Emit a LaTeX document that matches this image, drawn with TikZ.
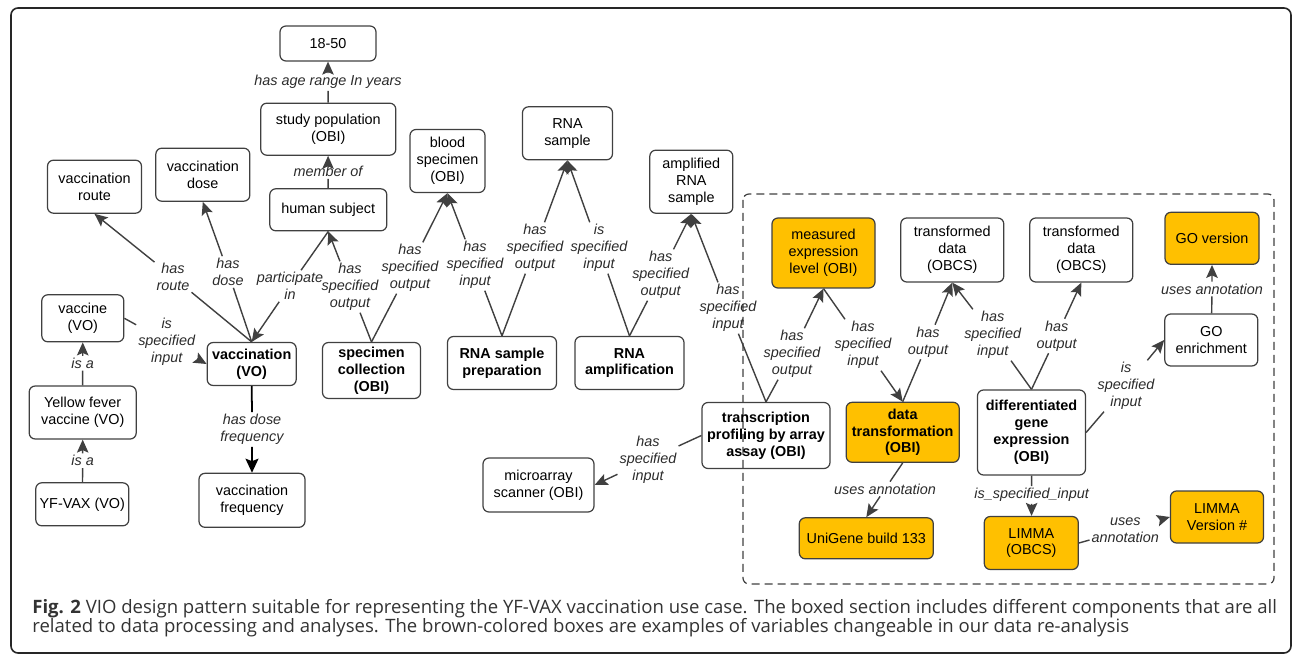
\documentclass[tikz,border=0pt]{standalone}
\usepackage{fontspec}
\setmainfont{Liberation Sans}
\newfontfamily\capfont{Open Sans}
\usetikzlibrary{arrows.meta}
\definecolor{boxgold}{HTML}{FFC000}
\definecolor{linegray}{HTML}{404040}
\definecolor{labelgray}{HTML}{2B2B2B}
\definecolor{capgray}{HTML}{333333}
\newsavebox\capone
\newlength\caponew
\begin{document}
\sbox\capone{\capfont\fontsize{10.5}{12}\selectfont\color{capgray}\textbf{Fig. 2} VIO design pattern suitable for representing the YF-VAX vaccination use case. The boxed section includes different components that are all}%
\setlength\caponew{\wd\capone}%
\pgfmathsetmacro\capscale{24.9cm/\caponew}%
\begin{tikzpicture}[x=0.02cm,y=-0.02cm,
  box/.style={draw=linegray,line width=0.7pt,rounded corners=0.12cm,align=center,inner sep=1pt,font=\fontsize{8.2}{9.6}\selectfont},
  gold/.style={box,fill=boxgold},
  strong/.style={font=\fontsize{8.2}{9.6}\selectfont\bfseries},
  sz/.style 2 args={minimum width=#1*0.02cm,minimum height=#2*0.02cm},
  lbl/.style={align=center,inner sep=1pt,font=\fontsize{8.2}{9.6}\selectfont\itshape,text=labelgray},
  arr/.style={draw=linegray,line width=0.8pt,-{Stealth[length=0.26cm,width=0.23cm,inset=0.05cm]}},
  arrdark/.style={draw=black,line width=1pt,-{Stealth[length=0.28cm,width=0.26cm,inset=0.05cm]}}]
  \useasboundingbox (0,0) rectangle (1292,655);
  \draw[black!85,line width=0.9pt,rounded corners=0.14cm] (11,8) rectangle (1291,653);
  \draw[linegray,line width=0.7pt,dash pattern=on 0.16cm off 0.1cm,rounded corners=0.12cm] (743,194) rectangle (1274,584);

  % left part
  \node[box,sz={96}{35}] (age) at (328,43.5) {18-50};
  \node[box,sz={135}{52}] (studypop) at (328.3,129.2) {study population\\(OBI)};
  \node[box,sz={117}{42}] (human) at (328.3,209.8) {human subject};
  \node[box,sz={94}{53}] (route) at (94.5,186.7) {vaccination\\route};
  \node[box,sz={94}{53}] (dose) at (202.8,174.7) {vaccination\\dose};
  \node[box,sz={75}{63}] (blood) at (447.5,161) {blood\\specimen\\(OBI)};
  \node[box,sz={90}{53}] (rnasample) at (567.5,133.3) {RNA\\sample};
  \node[box,sz={83}{63}] (amprna) at (691.3,181.7) {amplified\\RNA\\sample};
  \node[box,sz={82}{47}] (vaccine) at (82.8,318.3) {vaccine\\(VO)};
  \node[box,sz={107}{53}] (yellow) at (82.7,412.5) {Yellow fever\\vaccine (VO)};
  \node[box,sz={93}{43}] (yfvax) at (82.3,504.3) {YF-VAX (VO)};
  \node[box,strong,sz={89}{43}] (vacc) at (251.7,364) {vaccination\\(VO)};
  \node[box,sz={106}{54}] (freq) at (252,500.3) {vaccination\\frequency};
  \node[box,strong,sz={98}{56}] (speccoll) at (371.5,370.5) {specimen\\collection\\(OBI)};
  \node[box,strong,sz={109}{53}] (rnaprep) at (502,363) {RNA sample\\preparation};
  \node[box,strong,sz={109}{53}] (rnaamp) at (629.5,363) {RNA\\amplification};
  \node[box,strong,sz={128}{66}] (transc) at (766,435.5) {transcription\\profiling by array\\assay (OBI)};
  \node[box,sz={111}{54}] (scanner) at (538.5,485) {microarray\\scanner (OBI)};

  % boxed part
  \node[gold,sz={103}{70}] (measured) at (823.5,253) {measured\\expression\\level (OBI)};
  \node[box,sz={103}{64}] (tdataA) at (952.3,250) {transformed\\data\\(OBCS)};
  \node[box,sz={103}{64}] (tdataB) at (1081.3,250) {transformed\\data\\(OBCS)};
  \node[gold,sz={94}{52}] (goversion) at (1212,238.3) {GO version};
  \node[box,sz={93}{52}] (goenrich) at (1211.3,340) {GO\\enrichment};
  \node[gold,strong,sz={113}{60}] (datatrans) at (902.7,432.3) {data\\transformation\\(OBI)};
  \node[box,strong,sz={108}{85}] (diffexp) at (1031.5,432.5) {differentiated\\gene\\expression\\(OBI)};
  \node[gold,sz={134}{41}] (unigene) at (866.3,538.3) {UniGene build 133};
  \node[gold,sz={94}{53}] (limma) at (1031.3,543) {LIMMA\\(OBCS)};
  \node[gold,sz={93}{52}] (limmaver) at (1217,517) {LIMMA\\Version \#};

  % labels
  \node[lbl] (lAge) at (328,82) {has age range In years};
  \node[lbl] (lMember) at (328,171.5) {member of};
  \node[lbl] (lRoute) at (173,277) {has\\route};
  \node[lbl] (lDose) at (228,272) {has\\dose};
  \node[lbl] (lPart) at (290,286) {participate\\in};
  \node[lbl] (lOutHuman) at (350,287) {has\\specified\\output};
  \node[lbl] (lOutBlood) at (410,268) {has\\specified\\output};
  \node[lbl] (lInBlood) at (475,265) {has\\specified\\input};
  \node[lbl] (lOutRna) at (535,248) {has\\specified\\output};
  \node[lbl] (lInRna) at (599,248) {is\\specified\\input};
  \node[lbl] (lOutAmp) at (660.7,275) {has\\specified\\output};
  \node[lbl] (lInAmp) at (728,308) {has\\specified\\input};
  \node[lbl] (lOutMeas) at (792,354) {has\\specified\\output};
  \node[lbl] (lInMeas) at (863,345) {has\\specified\\input};
  \node[lbl] (lOutA) at (928,342) {has\\output};
  \node[lbl] (lInA) at (992.7,335) {has\\specified\\input};
  \node[lbl] (lOutB) at (1056.7,336) {has\\output};
  \node[lbl] (lGo) at (1212,289) {uses annotation};
  \node[lbl] (lInGo) at (1126,386) {is\\specified\\input};
  \node[lbl] (lUni) at (885,489) {uses annotation};
  \node[lbl] (lLimma) at (1031.7,495) {is\_specified\_input};
  \node[lbl] (lVer) at (1125.3,530) {uses\\annotation};
  \node[lbl] (lScan) at (648,460) {has\\specified\\input};
  \node[lbl] (lVaccine) at (166.7,341.7) {is\\specified\\input};
  \node[lbl] (lIsaA) at (82.7,363.3) {is a};
  \node[lbl] (lIsaB) at (82.7,460.7) {is a};
  \node[lbl] (lFreq) at (252,429.5) {has dose\\frequency};

  % connectors
  \draw[arr] (studypop) -- (lAge) -- (age);
  \draw[arr] (human) -- (lMember) -- (studypop);
  \draw[arr] (vacc.north) -- (lRoute) -- (route.south);
  \draw[arr] (vacc.north) -- (lDose) -- (dose.south);
  \draw[arr] (human.south) -- (lPart) -- (vacc.north);
  \draw[arr] (speccoll.north) -- (lOutHuman) -- (human.south);
  \draw[arr] (speccoll.north) -- (lOutBlood) -- (blood.south);
  \draw[arr] (rnaprep.north) -- (lInBlood) -- (blood.south);
  \draw[arr] (rnaprep.north) -- (lOutRna) -- (rnasample.south);
  \draw[arr] (rnaamp.north) -- (lInRna) -- (rnasample.south);
  \draw[arr] (rnaamp.north) -- (lOutAmp) -- (amprna.south);
  \draw[arr] (transc.north) -- (lInAmp) -- (amprna.south);
  \draw[arr] (transc.north) -- (lOutMeas) -- (measured.south);
  \draw[arr] (measured.south) -- (lInMeas) -- (datatrans.north);
  \draw[arr] (datatrans.north) -- (lOutA) -- (tdataA.south);
  \draw[arr] (diffexp.north) -- (lInA) -- (tdataA.south);
  \draw[arr] (diffexp.north) -- (lOutB) -- (tdataB.south);
  \draw[arr] (goenrich) -- (lGo) -- (goversion);
  \draw[arr] (diffexp.east) -- (lInGo) -- (goenrich.west);
  \draw[arr] (datatrans.south) -- (lUni) -- (unigene.north);
  \draw[arr] (diffexp) -- (lLimma) -- (limma);
  \draw[arr] (limma.east) -- (lVer) -- (limmaver.west);
  \draw[arr] (transc.west) -- (lScan) -- (scanner.east);
  \draw[arr] (vaccine.east) -- (lVaccine) -- (vacc.west);
  \draw[arr] (yellow) -- (lIsaA) -- (vaccine);
  \draw[arr] (yfvax) -- (lIsaB) -- (yellow);
  \draw[arrdark] (vacc) -- (lFreq) -- (freq);

  % caption
  \node[anchor=base west,inner sep=0] (capA) at (32,613) {\scalebox{\capscale}[1]{\usebox\capone}};
  \node[anchor=base west,inner sep=0,text=capgray] (capB) at (32,632) {\scalebox{\capscale}[1]{\capfont\fontsize{10.5}{12}\selectfont related to data processing and analyses. The brown-colored boxes are examples of variables changeable in our data re-analysis}};
\end{tikzpicture}
\end{document}
